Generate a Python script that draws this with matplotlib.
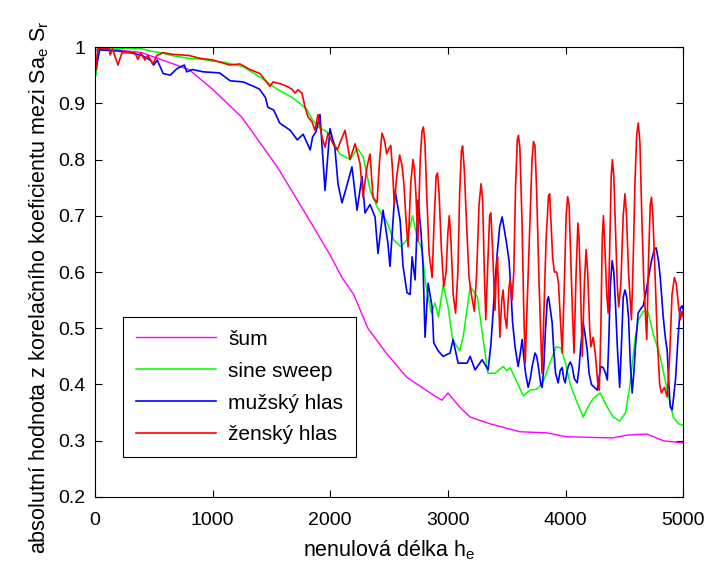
import numpy as np
import matplotlib
matplotlib.use('Agg')
import matplotlib.pyplot as plt

plt.rcParams['font.family'] = ['Liberation Sans', 'DejaVu Sans']
plt.rcParams['mathtext.default'] = 'regular'

# --- data ---
sum_x = [0, 200, 400, 600, 800, 1000, 1250, 1550, 1830, 2000, 2100, 2200, 2320, 2480,
         2650, 2850, 2950, 3000, 3100, 3190, 3360, 3610, 3840, 4010, 4400, 4520, 4690,
         4830, 5000]
sum_y = [0.995, 0.995, 0.99, 0.975, 0.96, 0.925, 0.875, 0.787, 0.69, 0.63, 0.59, 0.56,
         0.50, 0.455, 0.413, 0.385, 0.372, 0.385, 0.36, 0.342, 0.33, 0.316, 0.314, 0.307,
         0.305, 0.31, 0.312, 0.30, 0.296]

sweep_x = [0, 10, 30, 200, 400, 470, 560, 650, 800, 920, 1000, 1100, 1260, 1400, 1550,
           1680, 1800, 1850, 1910, 1970, 2020, 2080, 2170, 2230, 2280, 2340, 2400, 2480,
           2540, 2600, 2650, 2700, 2740, 2780, 2810, 2860, 2890, 2920, 2960, 3000, 3040,
           3100, 3130, 3190, 3250, 3300, 3340, 3400, 3470, 3500, 3530, 3590, 3640, 3700,
           3760, 3810, 3870, 3920, 3960, 4000, 4040, 4100, 4150, 4190, 4235, 4294, 4354,
           4405, 4460, 4510, 4550, 4590, 4620, 4660, 4700, 4745, 4804, 4864, 4915, 4960, 5000]
sweep_y = [0.96, 0.95, 0.998, 0.998, 0.997, 0.993, 0.99, 0.985, 0.98, 0.978, 0.975, 0.973,
           0.965, 0.947, 0.925, 0.91, 0.89, 0.87, 0.856, 0.85, 0.835, 0.81, 0.80, 0.82,
           0.805, 0.745, 0.715, 0.69, 0.657, 0.645, 0.657, 0.70, 0.66, 0.64, 0.58, 0.527,
           0.545, 0.52, 0.577, 0.54, 0.48, 0.46, 0.485, 0.574, 0.556, 0.48, 0.42, 0.42,
           0.432, 0.425, 0.43, 0.403, 0.38, 0.39, 0.392, 0.405, 0.44, 0.467, 0.465, 0.438,
           0.40, 0.367, 0.342, 0.36, 0.375, 0.385, 0.36, 0.342, 0.335, 0.35, 0.403, 0.48,
           0.515, 0.53, 0.53, 0.49, 0.45, 0.39, 0.342, 0.33, 0.328]

muz_x = [0, 10, 40, 200, 300, 400, 470, 500, 530, 580, 640, 700, 760, 780, 830, 920, 1060,
         1150, 1260, 1350, 1400, 1450, 1470, 1520, 1570, 1660, 1720, 1770, 1830, 1850, 1880,
         1913, 1956, 1998, 2040, 2066, 2100, 2130, 2185, 2228, 2270, 2296, 2338, 2381, 2406,
         2449, 2491, 2508, 2551, 2594, 2619, 2653, 2679, 2696, 2721, 2747, 2772, 2789, 2806,
         2832, 2866, 2880, 2917, 2959, 3019, 3044, 3087, 3163, 3189, 3231, 3291, 3342,
         3365, 3384, 3400, 3418, 3440, 3461, 3480, 3503, 3520, 3535, 3550, 3571, 3597, 3615,
         3631, 3645, 3660, 3682, 3700, 3716, 3741, 3755, 3770, 3790, 3801, 3815, 3830, 3845,
         3855, 3870, 3886, 3900, 3915, 3937, 3955, 3971, 3985, 3997, 4010, 4022, 4040, 4056,
         4075, 4099, 4115, 4130, 4150, 4165, 4184, 4200, 4220, 4245, 4269, 4283, 4300, 4320,
         4340, 4355, 4368, 4380, 4396, 4410, 4425, 4440, 4460, 4475, 4490, 4505, 4520, 4535,
         4550, 4566, 4580, 4595, 4617, 4640, 4660, 4680, 4702, 4730, 4755, 4770, 4790, 4805,
         4830, 4850, 4864, 4878, 4890, 4906, 4920, 4935, 4955, 4974, 4990, 5000]
muz_y = [0.99, 0.96, 0.995, 0.993, 0.99, 0.985, 0.977, 0.968, 0.977, 0.953, 0.95, 0.962,
         0.968, 0.956, 0.96, 0.956, 0.954, 0.94, 0.938, 0.93, 0.925, 0.91, 0.893, 0.888,
         0.865, 0.852, 0.835, 0.845, 0.817, 0.84, 0.85, 0.88, 0.745, 0.855, 0.82, 0.757,
         0.723, 0.745, 0.787, 0.71, 0.77, 0.705, 0.72, 0.698, 0.633, 0.71, 0.65, 0.61, 0.745,
         0.692, 0.61, 0.563, 0.56, 0.627, 0.586, 0.728, 0.67, 0.61, 0.484, 0.58, 0.538,
         0.474, 0.46, 0.45, 0.456, 0.48, 0.438, 0.438, 0.45, 0.426, 0.444, 0.426,
         0.47, 0.527, 0.58, 0.63, 0.68, 0.698, 0.675, 0.645, 0.62, 0.57, 0.51, 0.467, 0.432,
         0.455, 0.48, 0.45, 0.42, 0.395, 0.41, 0.432, 0.456, 0.45, 0.43, 0.40, 0.395, 0.43,
         0.50, 0.55, 0.556, 0.535, 0.51, 0.46, 0.42, 0.403, 0.425, 0.43, 0.41, 0.403, 0.42,
         0.432, 0.44, 0.432, 0.41, 0.403, 0.43, 0.47, 0.51, 0.49, 0.461, 0.42, 0.40, 0.395,
         0.39, 0.41, 0.432, 0.43, 0.42, 0.408, 0.48, 0.574, 0.62, 0.60, 0.54, 0.467, 0.395,
         0.47, 0.555, 0.568, 0.555, 0.52, 0.44, 0.385, 0.42, 0.47, 0.527, 0.535, 0.54, 0.56,
         0.586, 0.62, 0.64, 0.643, 0.62, 0.59, 0.52, 0.48, 0.46, 0.40, 0.36, 0.355, 0.38,
         0.41, 0.48, 0.535, 0.54, 0.533]

zen_x = [0, 10, 25, 120, 130, 150, 196, 230, 340, 366, 390, 425, 450, 493, 527, 578, 663,
         800, 893, 1003, 1148, 1233, 1318, 1403, 1429, 1488, 1514, 1573, 1633, 1676, 1701,
         1726, 1760, 1786, 1811, 1845, 1871, 1896, 1930, 1956, 1981, 2024, 2060, 2083, 2126,
         2168, 2211, 2253, 2279, 2313, 2338, 2364, 2398,
         2420, 2440, 2460, 2480, 2500, 2515, 2530, 2545, 2565, 2590, 2610, 2625, 2645, 2662,
         2685, 2704, 2715, 2728, 2745, 2765, 2780, 2792, 2805, 2820, 2840, 2866, 2885, 2900,
         2912, 2925, 2945, 2965, 2985, 3000, 3012, 3025, 3045, 3065, 3085, 3100, 3115, 3125,
         3140, 3160, 3180, 3200, 3225, 3245, 3265, 3282, 3295, 3310, 3322, 3340, 3355, 3365,
         3380, 3400, 3412, 3422, 3432, 3442, 3458, 3470, 3485, 3500, 3518, 3530, 3545, 3560,
         3575, 3590, 3600, 3612, 3630, 3645, 3657, 3675, 3695, 3715, 3728, 3740, 3755, 3775,
         3800, 3815, 3835, 3855, 3865, 3878, 3890, 3905, 3925, 3940, 3955, 3972, 3990, 4005,
         4018, 4030, 4045, 4060, 4072, 4090, 4105, 4115, 4130, 4142, 4160, 4175, 4188, 4205,
         4215, 4235, 4255, 4275, 4287, 4300, 4312, 4322, 4335, 4350, 4362, 4375, 4388, 4398,
         4410, 4425, 4440, 4452, 4470, 4490, 4505, 4518, 4535, 4560, 4575, 4590, 4605, 4618,
         4632, 4648, 4665, 4690, 4705, 4720, 4730, 4742, 4760, 4780, 4800, 4815, 4840, 4864,
         4885, 4905, 4925, 4940, 4960, 4975, 4990, 5000]
zen_y = [1.0, 0.96, 0.998, 0.997, 0.986, 0.997, 0.968, 0.99, 0.99, 0.978, 0.99, 0.977,
         0.985, 0.97, 0.985, 0.99, 0.987, 0.985, 0.98, 0.977, 0.968, 0.97, 0.96, 0.953,
         0.946, 0.93, 0.938, 0.935, 0.93, 0.925, 0.918, 0.924, 0.918, 0.893, 0.876, 0.867,
         0.852, 0.88, 0.84, 0.822, 0.847, 0.828, 0.817, 0.83, 0.852, 0.80, 0.828, 0.793,
         0.733, 0.787, 0.81, 0.733, 0.723,
         0.80, 0.847, 0.835, 0.81, 0.82, 0.825, 0.78, 0.72, 0.77, 0.808, 0.79, 0.76, 0.69,
         0.645, 0.76, 0.80, 0.785, 0.74, 0.655, 0.80, 0.85, 0.858, 0.83, 0.74, 0.634, 0.59,
         0.70, 0.77, 0.776, 0.74, 0.64, 0.574, 0.60, 0.67, 0.70, 0.66, 0.56, 0.527, 0.60,
         0.74, 0.815, 0.824, 0.78, 0.68, 0.59, 0.56, 0.53, 0.60, 0.72, 0.757, 0.73, 0.60,
         0.515, 0.62, 0.70, 0.705, 0.64, 0.532, 0.60, 0.627, 0.55, 0.484, 0.55, 0.568, 0.52,
         0.50, 0.57, 0.586, 0.55, 0.60, 0.75, 0.835, 0.843, 0.82, 0.69, 0.53, 0.438, 0.55,
         0.68, 0.80, 0.832, 0.825, 0.74, 0.58, 0.42, 0.52, 0.66, 0.735, 0.739, 0.68, 0.627,
         0.60, 0.60, 0.58, 0.52, 0.456, 0.58, 0.70, 0.734, 0.72, 0.62, 0.52, 0.456, 0.60,
         0.687, 0.66, 0.55, 0.45, 0.58, 0.64, 0.60, 0.50, 0.467, 0.484, 0.45, 0.40, 0.39,
         0.50, 0.66, 0.70, 0.64, 0.56, 0.527, 0.64, 0.77, 0.80, 0.77, 0.67, 0.574, 0.538,
         0.58, 0.70, 0.739, 0.70, 0.60, 0.515, 0.62, 0.76, 0.845, 0.865, 0.83, 0.70, 0.58,
         0.48, 0.62, 0.72, 0.733, 0.70, 0.60, 0.48, 0.40, 0.385, 0.395, 0.378, 0.45, 0.56,
         0.59, 0.58, 0.54, 0.515, 0.53, 0.52]

labels = ['šum', 'sine sweep', 'mužský hlas', 'ženský hlas']

fig = plt.figure(figsize=(7.08, 5.67), dpi=100)
ax = fig.add_axes([0.134, 0.1235, 0.831, 0.7935])

ax.plot(sum_x, sum_y, color='#ff00ff', lw=1.0, label=labels[0])
ax.plot(sweep_x, sweep_y, color='#00ff00', lw=1.1, label=labels[1])
ax.plot(muz_x, muz_y, color='#0000ff', lw=1.2, label=labels[2])
ax.plot(zen_x, zen_y, color='#ff0000', lw=1.2, label=labels[3])

ax.set_xlim(0, 5000)
ax.set_ylim(0.2, 1)
ax.set_xticks(np.arange(0, 5001, 1000))
ax.set_yticks(np.arange(0.2, 1.01, 0.1))
ax.set_yticklabels(['0.2', '0.3', '0.4', '0.5', '0.6', '0.7', '0.8', '0.9', '1'])
ax.tick_params(direction='in', top=True, right=True, length=5, labelsize=14)
ax.tick_params(axis='x', pad=11)
ax.tick_params(axis='y', pad=7)
for s in ax.spines.values():
    s.set_linewidth(0.8)

ax.set_xlabel('nenulová délka $h_e$', fontsize=15.5)
ax.xaxis.set_label_coords(0.5, -0.093)
ax.set_ylabel('absolutní hodnota z korelačního koeficientu mezi Sa$_e$ S$_r$', fontsize=15.5)
ax.yaxis.set_label_coords(-0.075, 0.467)

leg = ax.legend(loc='lower left', bbox_to_anchor=(0.048, 0.089), fontsize=15,
                handlelength=3.85, fancybox=False, framealpha=1, edgecolor='black',
                borderpad=0.6, labelspacing=0.62, handletextpad=0.6, borderaxespad=0)
leg.get_frame().set_linewidth(0.8)

fig.savefig('out.png', dpi=100, facecolor='white')
